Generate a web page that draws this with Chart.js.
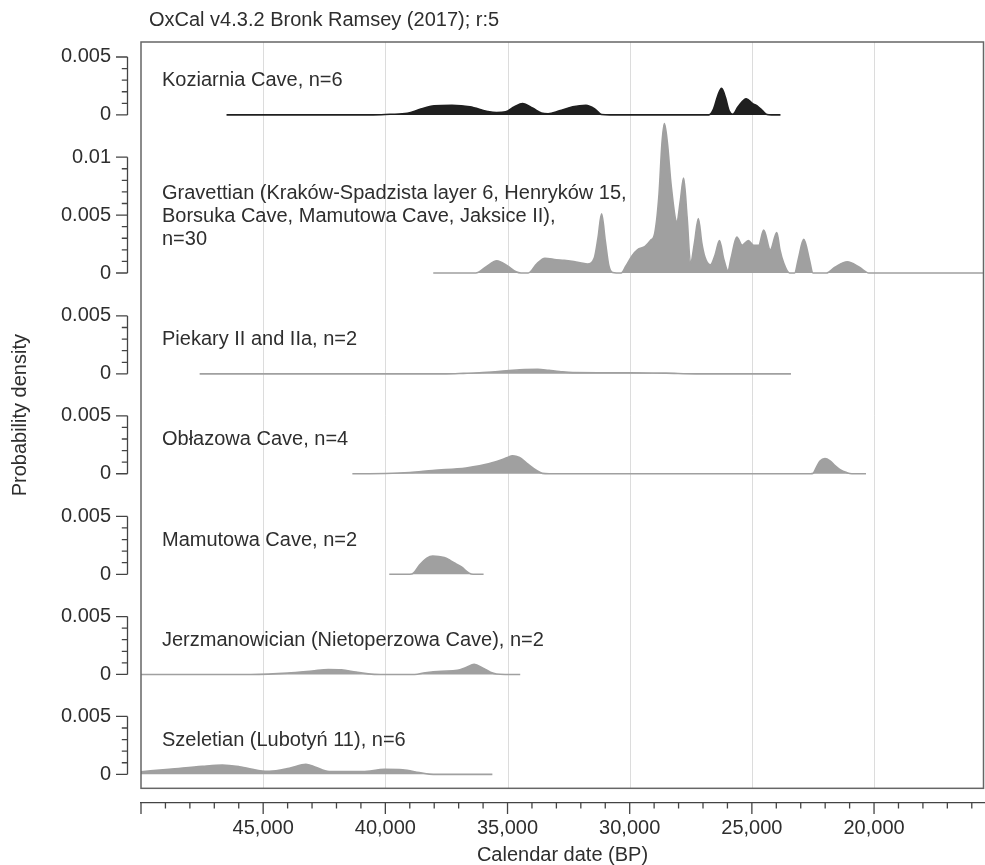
<!DOCTYPE html>
<html>
<head>
<meta charset="utf-8">
<title>OxCal summed probability</title>
<script src="https://cdn.jsdelivr.net/npm/chart.js@4.4.1/dist/chart.umd.min.js"></script>
<style>
  html, body { margin: 0; padding: 0; background: #fff; }
  canvas { display: block; }
</style>
</head>
<body>
<canvas id="chart" width="985" height="865"></canvas>
<script>
// each series: [calendar date BP, probability density]
const koziarnia = [
  [46500, 0], [40500, 0], [39800, 0.00005], [39100, 0.00013], [38550, 0.0005], [38000, 0.00078],
  [37275, 0.00083], [36540, 0.0007], [35810, 0.0003], [35450, 0.0002], [35080, 0.00026], [34715, 0.0007],
  [34385, 0.00098], [33980, 0.0006], [33615, 0.00017], [33340, 0.0001], [32880, 0.00035], [32330, 0.0007],
  [31790, 0.00083], [31420, 0.0005], [31150, 0.00003], [30800, 0], [26760, 0], [26570, 0.0005],
  [26390, 0.0017], [26240, 0.0023], [26080, 0.0015], [25930, 0.00035], [25780, 0.00005], [25565, 0.0007],
  [25230, 0.0014], [24980, 0.001], [24740, 0.0007], [24560, 0.00035], [24380, 0.00003], [24200, 0], [23830, 0]
];
const gravettian = [
  [38040, 0], [36300, 0], [35900, 0.0005], [35440, 0.00106], [35000, 0.0006], [34650, 0.0001], [34450, 0],
  [34150, 0], [33800, 0.0008], [33470, 0.00127], [33000, 0.00115], [32680, 0.0011], [32200, 0.00095],
  [31730, 0.00078], [31450, 0.0013], [31300, 0.003], [31150, 0.0051], [31000, 0.0028], [30850, 0.0006],
  [30700, 0.00005], [30350, 0], [30160, 0.00058], [29900, 0.0015], [29685, 0.002], [29370, 0.0023],
  [29150, 0.0028], [28975, 0.00345], [28800, 0.0068], [28680, 0.0112], [28580, 0.0129], [28460, 0.0113],
  [28300, 0.0075], [28070, 0.00445], [27930, 0.0062], [27795, 0.0082], [27650, 0.0048], [27510, 0.00086],
  [27350, 0.0026], [27190, 0.0047], [27050, 0.0026], [26925, 0.0014], [26700, 0.0007], [26500, 0.0016],
  [26326, 0.0028], [26150, 0.0012], [25980, 0.0002], [25850, 0.0013], [25615, 0.0031], [25400, 0.0024],
  [25143, 0.0028], [24925, 0.0024], [24720, 0.0024], [24516, 0.0037], [24246, 0.002], [23980, 0.0035],
  [23850, 0.002], [23697, 0.00086], [23460, 0], [23250, 0], [23100, 0.0012], [22877, 0.0029],
  [22650, 0.0012], [22500, 0], [21950, 0], [21600, 0.0005], [21094, 0.00097], [20600, 0.0005],
  [20210, 0], [15500, 0]
];
const piekary = [
  [47600, 0], [37500, 0], [36800, 0.00004], [36150, 0.00009], [35050, 0.00026], [34300, 0.00038],
  [33760, 0.0004], [33300, 0.0003], [32870, 0.0002], [32330, 0.00011], [31000, 0.0001], [30000, 0.0001],
  [28500, 0.00006], [27300, 0], [23400, 0]
];
const oblazowa = [
  [41350, 0], [40000, 0.00002], [39000, 0.0001], [38070, 0.00028], [36700, 0.0005], [36150, 0.00068],
  [35450, 0.00106], [35000, 0.0014], [34800, 0.00155], [34510, 0.0014], [34220, 0.00092], [33810, 0.00028],
  [33570, 0.00003], [33300, 0], [22600, 0], [22490, 0.00004], [22350, 0.0006], [22210, 0.0011],
  [22008, 0.0013], [21800, 0.0011], [21600, 0.0007], [21390, 0.00035], [21120, 0.0001], [20910, 0], [20330, 0]
];
const mamutowa = [
  [39840, 0], [39000, 0], [38850, 0.0001], [38600, 0.0008], [38300, 0.0014], [38060, 0.00158],
  [37590, 0.00144], [37350, 0.0012], [37120, 0.00092], [36885, 0.00063], [36570, 0.0001], [36410, 0], [35980, 0]
];
const jerzmanowician = [
  [50000, 0], [45500, 0], [44800, 0.00003], [44000, 0.00012], [43000, 0.0003], [42336, 0.00043],
  [41800, 0.0004], [41200, 0.0002], [40700, 0.00005], [40200, 0], [38800, 0], [38370, 0.00015],
  [37700, 0.00028], [37050, 0.00035], [36700, 0.0006], [36365, 0.00087], [36000, 0.00055], [35700, 0.0002],
  [35450, 0.00004], [35100, 0], [34480, 0]
];
const szeletian = [
  [50000, 0.00023], [48850, 0.00043], [47490, 0.00069], [46670, 0.0008], [45980, 0.00066], [45030, 0.00028],
  [44750, 0.00026], [43930, 0.00052], [43250, 0.00086], [42910, 0.00066], [42300, 0.00023], [40930, 0.00023],
  [40030, 0.00043], [39290, 0.0004], [38610, 0.00015], [38200, 0.00002], [37800, 0], [35620, 0]
];

const series = [koziarnia, gravettian, piekary, oblazowa, mamutowa, jerzmanowician, szeletian];
const panelNames = [
  ['Koziarnia Cave, n=6'],
  ['Gravettian (Kraków-Spadzista layer 6, Henryków 15,', 'Borsuka Cave, Mamutowa Cave, Jaksice II),', 'n=30'],
  ['Piekary II and IIa, n=2'],
  ['Obłazowa Cave, n=4'],
  ['Mamutowa Cave, n=2'],
  ['Jerzmanowician (Nietoperzowa Cave), n=2'],
  ['Szeletian (Lubotyń 11), n=6']
];
const yTickValues = [[0, 0.005], [0, 0.005, 0.01], [0, 0.005], [0, 0.005], [0, 0.005], [0, 0.005], [0, 0.005]];
const xLabelValues = [45000, 40000, 35000, 30000, 25000, 20000];

// layout of the stacked panels, top to bottom (px)
const panelHeights = [81, 164.5, 101, 100, 100.5, 100.3, 100];
const zeroFromBottom = [8, 14.2, 14.2, 14.2, 14, 14, 14];
const gapHeight = 14.7;
const PX_PER_UNIT = 11600;
const fillColors = ['#1f1f1f', '#a0a0a0', '#a0a0a0', '#a0a0a0', '#a0a0a0', '#a0a0a0', '#a0a0a0'];

const FONT = '"Liberation Sans", Arial, Helvetica, sans-serif';
const TEXT = '#2e2e2e';
const AXIS = '#444';
Chart.defaults.font.family = FONT;
Chart.defaults.font.size = 20;
Chart.defaults.color = TEXT;

const scales = {
  x: {
    type: 'linear', position: 'bottom', reverse: true, min: 15500, max: 50000,
    grid: { display: false, drawTicks: false },
    border: { display: true, color: AXIS, width: 1.3 },
    afterBuildTicks: s => {
      const t = [];
      for (let v = 16000; v <= 50000; v += 1000) t.push({ value: v });
      s.ticks = t;
    },
    ticks: {
      autoSkip: false, maxRotation: 0, padding: 13, color: TEXT,
      callback: v => xLabelValues.includes(v) ? v.toLocaleString('en-US') : ''
    },
    title: { display: true, text: 'Calendar date (BP)', color: TEXT, font: { size: 20, lineHeight: 1 }, padding: 0 },
    afterFit: s => { s.height = 62; }
  }
};
// stacked boxes are placed bottom-up, so the gap goes first and the top panel last
scales.yGap = {
  type: 'linear', position: 'left', stack: 'panels', stackWeight: gapHeight, min: 0, max: 1,
  grid: { display: false, drawTicks: false }, border: { display: false },
  ticks: { display: false },
  afterFit: s => { s.width = 141; }
};
for (let i = panelHeights.length - 1; i >= 0; i--) {
  const h = panelHeights[i];
  scales['y' + (i + 1)] = {
    type: 'linear', position: 'left', stack: 'panels', stackWeight: h,
    min: -zeroFromBottom[i] / PX_PER_UNIT,
    max: (h - zeroFromBottom[i]) / PX_PER_UNIT,
    grid: { display: false, drawTicks: false },
    border: { display: false },
    afterBuildTicks: s => { s.ticks = yTickValues[i].map(v => ({ value: v })); },
    ticks: { padding: 30, color: TEXT, callback: v => v === 0 ? '0' : String(v) },
    afterFit: s => { s.width = 141; }
  };
}

const datasets = series.map((pts, i) => ({
  label: panelNames[i].join(' '),
  data: pts.map(([x, y]) => ({ x, y })),
  yAxisID: 'y' + (i + 1),
  xAxisID: 'x',
  borderColor: fillColors[i],
  backgroundColor: fillColors[i],
  borderWidth: 1.6,
  pointRadius: 0,
  fill: 'origin',
  cubicInterpolationMode: 'monotone',
  clip: false
}));

// frame, grid, bracket axes, panel names
const decor = {
  id: 'decor',
  beforeDatasetsDraw(chart) {
    const { ctx, chartArea } = chart;
    const x = chart.scales.x;
    const bottom = chart.scales.y7.bottom;
    ctx.save();
    ctx.strokeStyle = '#dcdcdc';
    ctx.lineWidth = 1;
    xLabelValues.forEach(v => {
      const px = Math.round(x.getPixelForValue(v)) + 0.5;
      ctx.beginPath();
      ctx.moveTo(px, chartArea.top);
      ctx.lineTo(px, bottom);
      ctx.stroke();
    });
    ctx.restore();
  },
  afterDraw(chart) {
    const { ctx, chartArea } = chart;
    const x = chart.scales.x;
    const frameBottom = chart.scales.y7.bottom;
    const left = chartArea.left;
    ctx.save();

    // frame
    ctx.strokeStyle = '#666';
    ctx.lineWidth = 1.5;
    ctx.strokeRect(left, chartArea.top, chartArea.right - left - 0.5, frameBottom - chartArea.top);

    // y brackets with minor ticks
    ctx.strokeStyle = AXIS;
    ctx.lineWidth = 1.3;
    const ax = left - 13.5;
    yTickValues.forEach((vals, i) => {
      const s = chart.scales['y' + (i + 1)];
      const top = vals[vals.length - 1];
      ctx.beginPath();
      ctx.moveTo(ax, s.getPixelForValue(0));
      ctx.lineTo(ax, s.getPixelForValue(top));
      const n = Math.round(top / 0.001);
      for (let k = 0; k <= n; k++) {
        const py = s.getPixelForValue(k * 0.001);
        const major = k % 5 === 0;
        ctx.moveTo(ax, py);
        ctx.lineTo(ax - (major ? 11.5 : 5.7), py);
      }
      ctx.stroke();
    });

    // x ticks
    ctx.beginPath();
    const ay = x.top;
    for (let v = 16000; v <= 50000; v += 1000) {
      const px = x.getPixelForValue(v);
      ctx.moveTo(px, ay);
      ctx.lineTo(px, ay + (v % 5000 === 0 ? 11 : 5.5));
    }
    ctx.stroke();

    // texts
    ctx.fillStyle = TEXT;
    ctx.font = '20px ' + FONT;
    ctx.textBaseline = 'middle';
    ctx.textAlign = 'left';
    ctx.fillText('OxCal v4.3.2 Bronk Ramsey (2017); r:5', 149, 20);

    panelNames.forEach((lines, i) => {
      const s = chart.scales['y' + (i + 1)];
      const base = s.getPixelForValue(0) - 34;
      lines.forEach((t, j) => {
        ctx.fillText(t, left + 21, base - (lines.length - 1 - j) * 23);
      });
    });

    ctx.translate(20, (chartArea.top + frameBottom) / 2);
    ctx.rotate(-Math.PI / 2);
    ctx.textAlign = 'center';
    ctx.fillText('Probability density', 0, 0);
    ctx.restore();
  }
};

new Chart(document.getElementById('chart'), {
  type: 'line',
  data: { datasets },
  options: {
    responsive: false,
    animation: false,
    devicePixelRatio: 1,
    layout: { padding: { top: 41, right: 1, bottom: 0, left: 0 } },
    plugins: { legend: { display: false }, tooltip: { enabled: false }, title: { display: false } },
    scales
  },
  plugins: [decor]
});
</script>
</body>
</html>
